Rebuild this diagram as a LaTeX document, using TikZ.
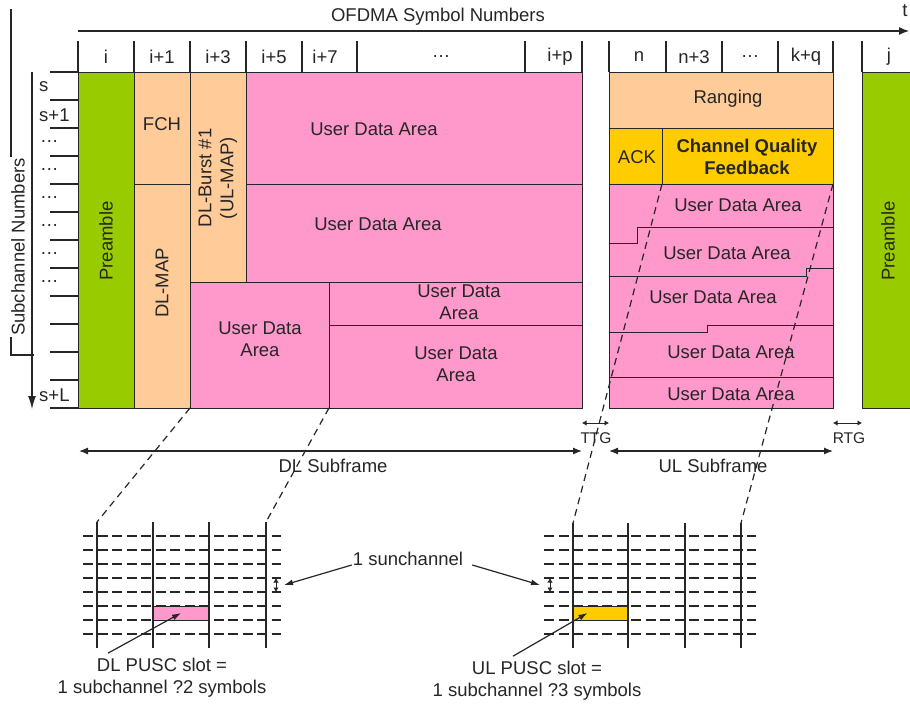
\documentclass[tikz,border=0pt]{standalone}
\usepackage{fontspec}
\setmainfont{Liberation Sans}
\usetikzlibrary{arrows.meta,calc}
\definecolor{preamb}{HTML}{99CC00}
\definecolor{peach}{HTML}{FFCC99}
\definecolor{udata}{HTML}{FF99CC}
\definecolor{ackc}{HTML}{FFCC00}
\definecolor{ink}{HTML}{262626}
% rectangular region as a named node: name, x1, y1, x2, y2, style
\newcommand\mkblock[6]{\node[box,#6,minimum width={(#4-#2)*1pt},minimum height={(#5-#3)*1pt}] (#1) at ({(#2+#4)/2},{(#3+#5)/2}) {};}
\tikzset{
  box/.style={draw=ink, line width=0.9pt, inner sep=0pt, outer sep=0pt},
  lbl/.style={font=\fontsize{18.5}{22}\selectfont, text=ink, align=center, inner sep=0pt},
  sml/.style={font=\fontsize{15.5}{18}\selectfont, text=ink, inner sep=0pt},
  tickline/.style={draw=ink, line width=1.1pt},
  conn/.style={draw=ink, line width=1.2pt},
  dblarrow/.style={conn, {Latex[length=9pt,width=7pt]}-{Latex[length=9pt,width=7pt]}},
  tinyarrow/.style={draw=ink, line width=1pt, {Latex[length=4.5pt,width=5.5pt]}-{Latex[length=4.5pt,width=5.5pt]}},
  zoomline/.style={draw=ink, line width=1.2pt, dash pattern=on 7pt off 5pt},
  gridh/.style={draw=ink, line width=1.2pt, dash pattern=on 10pt off 4.5pt},
  gridv/.style={draw=ink, line width=1.3pt},
}
\begin{document}
\begin{tikzpicture}[x=1pt,y=-1pt]
\useasboundingbox (0,0) rectangle (910,704);

% ---- time axis ----
\coordinate (tA) at (78,31);
\coordinate (tB) at (909,31);
\draw[conn, -{Latex[length=10pt,width=8pt]}] (tA) -- (tB);
\node[lbl] (ofdma) at (438,17) {OFDMA Symbol Numbers};
\node[lbl] (tlab) at (905,11) {t};

% ---- symbol header ticks ----
\foreach \x in {78,134,190,246,302,357,525,582,609,666,722,778,833,862}
  \draw[tickline] (\x,41) -- (\x,72);
\node[lbl] (h1) at (106,57) {i};
\node[lbl] (h2) at (162,57) {i+1};
\node[lbl] (h3) at (218,57) {i+3};
\node[lbl] (h4) at (274,57) {i+5};
\node[lbl] (h5) at (325,57) {i+7};
\node[lbl] (h6) at (441,57) {\dots};
\node[lbl] (h7) at (560,57) {i+p};
\node[lbl] (h8) at (639,57) {n};
\node[lbl] (h9) at (694,57) {n+3};
\node[lbl] (h10) at (750,57) {\dots};
\node[lbl] (h11) at (806,57) {k+q};
\node[lbl] (h12) at (889,57) {j};

% ---- subchannel axis ----
\foreach \y in {72,100,128,156,184,212,240,268,296,324,352,380,408}
  \draw[tickline] (50,\y) -- (78,\y);
\coordinate (sA) at (32,72);
\coordinate (sB) at (32,409);
\draw[conn, -{Latex[length=13pt,width=8pt]}] (sA) -- (sB);
\draw[tickline] (11,9) -- (11,355) -- (34,355);
\node[lbl, rotate=90, fill=white, inner sep=1pt] (subn) at (18,247) {Subchannel Numbers};
\node[lbl, anchor=west] (r1) at (39,87) {s};
\node[lbl, anchor=west] (r2) at (39,115) {s+1};
\foreach \y [count=\k from 3] in {142,170,198,226,254,282}
  \node[lbl, anchor=west] (r\k) at (40,\y) {\dots};
\node[lbl, anchor=west] (rL) at (39,395) {s+L};

% ---- downlink subframe ----
\mkblock{preA}{78}{72}{134}{408}{fill=preamb}
\mkblock{fch}{134}{72}{190}{184}{fill=peach}
\mkblock{dlmap}{134}{184}{190}{408}{fill=peach}
\mkblock{burst}{190}{72}{246}{282}{fill=peach}
\mkblock{udA}{246}{72}{582}{184}{fill=udata}
\mkblock{udB}{246}{184}{582}{282}{fill=udata}
\mkblock{udC}{190}{282}{329}{408}{fill=udata}
\mkblock{udD}{329}{282}{582}{325}{fill=udata}
\mkblock{udE}{329}{325}{582}{408}{fill=udata}

\node[lbl, rotate=90] (preAl) at (106,241) {Preamble};
\node[lbl] (fchl) at (162,124) {FCH};
\node[lbl, rotate=90] (dlmapl) at (162,283) {DL-MAP};
\node[lbl, rotate=90] (burstl) at (218,178) {DL-Burst \#1\\(UL-MAP)};
\node[lbl] (udAl) at (374,129) {User Data Area};
\node[lbl] (udBl) at (378,224) {User Data Area};
\node[lbl] (udCl) at (260,339) {User Data\\Area};
\node[lbl] (udDl) at (459,302) {User Data\\Area};
\node[lbl] (udEl) at (456,364) {User Data\\Area};

% ---- uplink subframe ----
\mkblock{rng}{609}{72}{833}{128}{fill=peach}
\mkblock{ack}{609}{128}{662}{184}{fill=ackc}
\mkblock{cqf}{662}{128}{833}{184}{fill=ackc}
\mkblock{ulud}{609}{184}{833}{408}{fill=udata}
\draw[box] (609,243) -- (637,243) -- (637,227) -- (833,227);
\draw[box] (609,276) -- (806,276) -- (806,268) -- (833,268);
\draw[box] (609,332) -- (707,332) -- (707,325) -- (833,325);
\draw[box] (609,377) -- (833,377);
\node[lbl] (rngl) at (728,99) {Ranging};
\node[lbl] (ackl) at (637,157) {ACK};
\node[lbl, font=\fontsize{18.5}{22}\selectfont\bfseries] (cqfl) at (747,157) {Channel Quality\\Feedback};
\node[lbl] (ul1) at (738,205) {User Data Area};
\node[lbl] (ul2) at (727,253) {User Data Area};
\node[lbl] (ul3) at (713,297) {User Data Area};
\node[lbl] (ul4) at (731,352) {User Data Area};
\node[lbl] (ul5) at (731,394) {User Data Area};

% ---- next frame preamble ----
\mkblock{preB}{862}{72}{925}{408}{fill=preamb}
\node[lbl, rotate=90] (preBl) at (888,241) {Preamble};

% ---- gaps and subframe extents ----
\coordinate (ttgA) at (582,423); \coordinate (ttgB) at (609,423);
\coordinate (rtgA) at (833,423); \coordinate (rtgB) at (862,423);
\draw[tinyarrow] (ttgA) -- (ttgB);
\draw[tinyarrow] (rtgA) -- (rtgB);
\node[sml] (ttg) at (596,438) {TTG};
\node[sml] (rtg) at (849,438) {RTG};
\coordinate (dlsA) at (79,451); \coordinate (dlsB) at (582,451);
\coordinate (ulsA) at (609,451); \coordinate (ulsB) at (833,451);
\draw[dblarrow] (dlsA) -- (dlsB);
\draw[dblarrow] (ulsA) -- (ulsB);
\node[lbl] (dlsub) at (333,466) {DL Subframe};
\node[lbl] (ulsub) at (713,466) {UL Subframe};

% ---- DL slot grid ----
\foreach \y in {536,550,564,578,592,606,620,634}
  \draw[gridh] (83,\y) -- (281,\y);
\node[box, fill=udata, minimum width=56pt, minimum height=14pt] (dlslot) at (181,613) {};
\foreach \x/\n in {97/g1,153/g2,209/g3,266/g4} {
  \coordinate (\n t) at (\x,522);
  \draw[gridv] (\n t) -- (\x,648);
}
\coordinate (dlscA) at (276,578); \coordinate (dlscB) at (276,592);
\draw[tinyarrow] (dlscA) -- (dlscB);

% ---- UL slot grid ----
\foreach \y in {536,550,564,578,592,606,620,634}
  \draw[gridh] (544,\y) -- (756,\y);
\node[box, fill=ackc, minimum width=55pt, minimum height=14pt] (ulslot) at (600.5,613) {};
\foreach \x/\n in {573/u1,628/u2,685/u3,741/u4} {
  \coordinate (\n t) at (\x,523);
  \draw[gridv] (\n t) -- (\x,648);
}
\coordinate (ulscA) at (550,578); \coordinate (ulscB) at (550,592);
\draw[tinyarrow] (ulscA) -- (ulscB);

% ---- zoom lines from frame to slot grids ----
\draw[zoomline] (udC.south west) -- (g1t);
\draw[zoomline] (udC.south east) -- (g4t);
\draw[zoomline] (ack.south east) -- (u1t);
\draw[zoomline] (cqf.south east) -- (u4t);

% ---- annotations ----
\node[lbl] (subch) at (408,559) {1 sunchannel};
\coordinate (dlscM) at (284,585);
\coordinate (ulscM) at (540,585);
\draw[conn, -{Latex[length=9pt,width=6pt]}] ($(subch.west)+(-1,6)$) -- (dlscM);
\draw[conn, -{Latex[length=9pt,width=6pt]}] ($(subch.east)+(9,6)$) -- (ulscM);

\node[lbl] (dlslotl) at (162,678) {DL PUSC slot =\\1 subchannel ?2 symbols};
\node[lbl] (ulslotl) at (537,681) {UL PUSC slot =\\1 subchannel ?3 symbols};
\draw[conn, -{Latex[length=9pt,width=6pt]}] ($(dlslotl.north)+(-54,-5)$) -- (dlslot.center);
\draw[conn, -{Latex[length=9pt,width=6pt]}] ($(ulslotl.north)+(-24,-5)$) -- ($(ulslot.center)+(-13,0)$);
\end{tikzpicture}
\end{document}
